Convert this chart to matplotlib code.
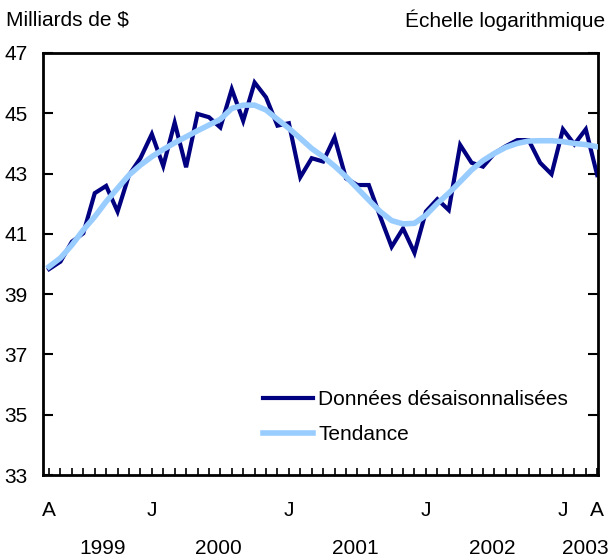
import numpy as np
import matplotlib
matplotlib.use("Agg")
import matplotlib.pyplot as plt
from matplotlib.transforms import blended_transform_factory

plt.rcParams["font.family"] = ["Liberation Sans", "DejaVu Sans"]

# mois: avril 1999 -> avril 2003 (49 points)
donnees = [39.83, 40.08, 40.74, 41.02, 42.35, 42.59, 41.74, 42.95, 43.51,
           44.31, 43.25, 44.69, 43.21, 44.98, 44.87, 44.53, 45.80, 44.75,
           46.02, 45.53, 44.59, 44.67, 42.88, 43.51, 43.40, 44.20, 42.84,
           42.62, 42.62, 41.57, 40.57, 41.18, 40.37, 41.74, 42.15, 41.79,
           43.95, 43.36, 43.23, 43.67, 43.91, 44.11, 44.11, 43.36, 42.98,
           44.47, 43.97, 44.47, 42.95]
tendance = [39.91, 40.20, 40.63, 41.13, 41.57, 42.07, 42.51, 42.95, 43.28,
            43.56, 43.80, 44.02, 44.22, 44.42, 44.61, 44.80, 45.16, 45.27,
            45.27, 45.11, 44.80, 44.50, 44.17, 43.83, 43.56, 43.25, 42.90,
            42.51, 42.12, 41.74, 41.44, 41.33, 41.35, 41.62, 42.01, 42.35,
            42.73, 43.12, 43.43, 43.67, 43.87, 44.00, 44.08, 44.09, 44.09,
            44.06, 44.00, 43.96, 43.89]
mois_labels = {0: "A", 9: "J", 21: "J", 33: "J", 45: "J", 48: "A"}
annees = [("1999", 4.7), ("2000", 14.8), ("2001", 26.8), ("2002", 38.8), ("2003", 47.0)]
y_ticks = [33, 35, 37, 39, 41, 43, 45, 47]

W, H = 608, 556
fig = plt.figure(figsize=(W / 100, H / 100), dpi=100)
ax = fig.add_axes([43 / W, 1 - 475 / H, (598 - 43) / W, (475 - 53) / H])

x = np.arange(len(donnees))
ax.plot(x, donnees, color="#000080", lw=3.0, solid_joinstyle="miter",
        label="Données désaisonnalisées", zorder=2)
ax.plot(x, tendance, color="#99ccff", lw=4.0, label="Tendance", zorder=3)

ax.set_xlim(-0.53, 48.07)
ax.set_ylim(33, 47)
ax.set_yticks(y_ticks)
ax.set_yticklabels([str(v) for v in y_ticks])
ax.tick_params(axis="y", direction="in", length=7, width=1.5, right=True,
               labelsize=15, pad=11)
ax.set_xticks(x)
ax.set_xticklabels([])
ax.tick_params(axis="x", direction="in", length=5, width=1.2)
for s in ax.spines.values():
    s.set_linewidth(2)

tr = blended_transform_factory(ax.transData, fig.transFigure)
for k, lab in mois_labels.items():
    ax.text(k, 1 - 510 / H, lab, transform=tr, ha="center", va="center", fontsize=15)
for lab, pos in annees:
    ax.text(pos, 1 - 548 / H, lab, transform=tr, ha="center", va="center", fontsize=15)

fig.text(6 / W, 1 - 20 / H, "Milliards de $", ha="left", va="center", fontsize=15)
fig.text(605 / W, 1 - 20 / H, "Échelle logarithmique", ha="right", va="center", fontsize=15)

ax.legend(loc="upper left", bbox_to_anchor=(263 / W, 1 - 390 / H),
          bbox_transform=fig.transFigure, frameon=False, fontsize=15,
          borderpad=0, borderaxespad=0, handlelength=2.4, handletextpad=0.25,
          labelspacing=0.79)

fig.savefig("out.png", dpi=100)
